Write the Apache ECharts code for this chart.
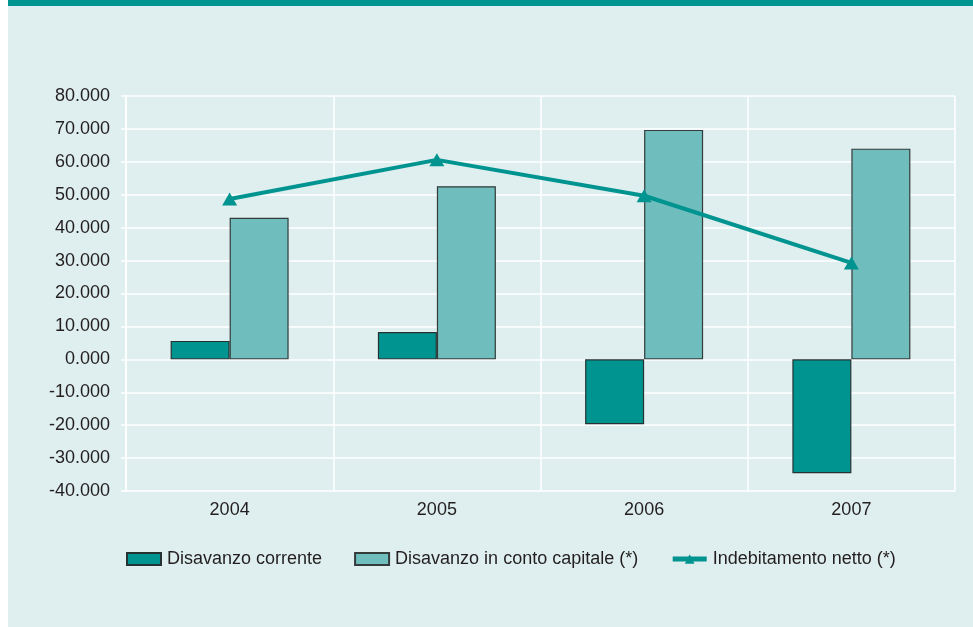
<!DOCTYPE html>
<html>
<head>
<meta charset="utf-8">
<script src="https://cdn.jsdelivr.net/npm/echarts@6/dist/echarts.min.js"></script>
<style>
  html, body { margin: 0; padding: 0; background: #ffffff; }
  #panel { position: absolute; left: 8px; top: 0; width: 965px; height: 627px; background: #dfeeee; border-top: 6px solid #009490; box-sizing: border-box; }
  #chart { position: absolute; left: 0; top: 0; width: 973px; height: 627px; }
</style>
</head>
<body>
<div id="panel"></div>
<div id="chart"></div>
<script>
// dati
var anni = ['2004', '2005', '2006', '2007'];
var disavanzoCorrente = [5600, 8300, -19700, -34600];
var disavanzoCapitale = [43000, 52600, 69700, 64000];
var indebitamentoNetto = [48700, 60600, 49700, 29300];

var chart = echarts.init(document.getElementById('chart'));

var testo = { color: '#231f20', fontFamily: 'Liberation Sans, Arial, sans-serif', fontSize: 18 };

var option = {
  backgroundColor: 'transparent',
  animation: false,
  grid: { left: 126, right: 18, top: 96, bottom: 136 },
  legend: {
    left: 121,
    top: 545,
    itemWidth: 34,
    itemHeight: 12,
    itemGap: 32,
    textStyle: Object.assign({ padding: [0, 0, 0, 1] }, testo),
    data: [
      { name: 'Disavanzo corrente', icon: 'rect' },
      { name: 'Disavanzo in conto capitale (*)', icon: 'rect' },
      { name: 'Indebitamento netto (*)', lineStyle: { width: 5 } }
    ]
  },
  xAxis: {
    type: 'category',
    data: anni,
    axisLine: { show: false, onZero: false },
    axisTick: { show: false },
    axisLabel: Object.assign({ margin: 10 }, testo),
    splitLine: { show: true, lineStyle: { color: '#ffffff', width: 1.5 } }
  },
  yAxis: {
    type: 'value',
    min: -40000,
    max: 80000,
    interval: 10000,
    axisLine: { show: true, lineStyle: { color: '#ffffff', width: 1.5 } },
    axisTick: { show: true, length: 5, lineStyle: { color: '#ffffff', width: 1.5 } },
    axisLabel: Object.assign({
      margin: 16,
      formatter: function (v) { return (v / 1000).toFixed(3); }
    }, testo),
    splitLine: { show: true, lineStyle: { color: '#ffffff', width: 1.5 } }
  },
  series: [
    {
      name: 'Disavanzo corrente',
      type: 'bar',
      barWidth: 59,
      barGap: '0%',
      data: disavanzoCorrente,
      itemStyle: { color: '#009490', borderColor: '#263232', borderWidth: 1.2 }
    },
    {
      name: 'Disavanzo in conto capitale (*)',
      type: 'bar',
      barWidth: 59,
      barGap: '0%',
      data: disavanzoCapitale,
      itemStyle: { color: '#6fbdbd', borderColor: '#333b3b', borderWidth: 1.2 }
    },
    {
      name: 'Indebitamento netto (*)',
      type: 'line',
      data: indebitamentoNetto,
      symbol: 'triangle',
      symbolSize: [15, 13],
      lineStyle: { color: '#009490', width: 4 },
      itemStyle: { color: '#009490' },
      z: 5
    }
  ]
};

chart.setOption(option);
</script>
</body>
</html>
